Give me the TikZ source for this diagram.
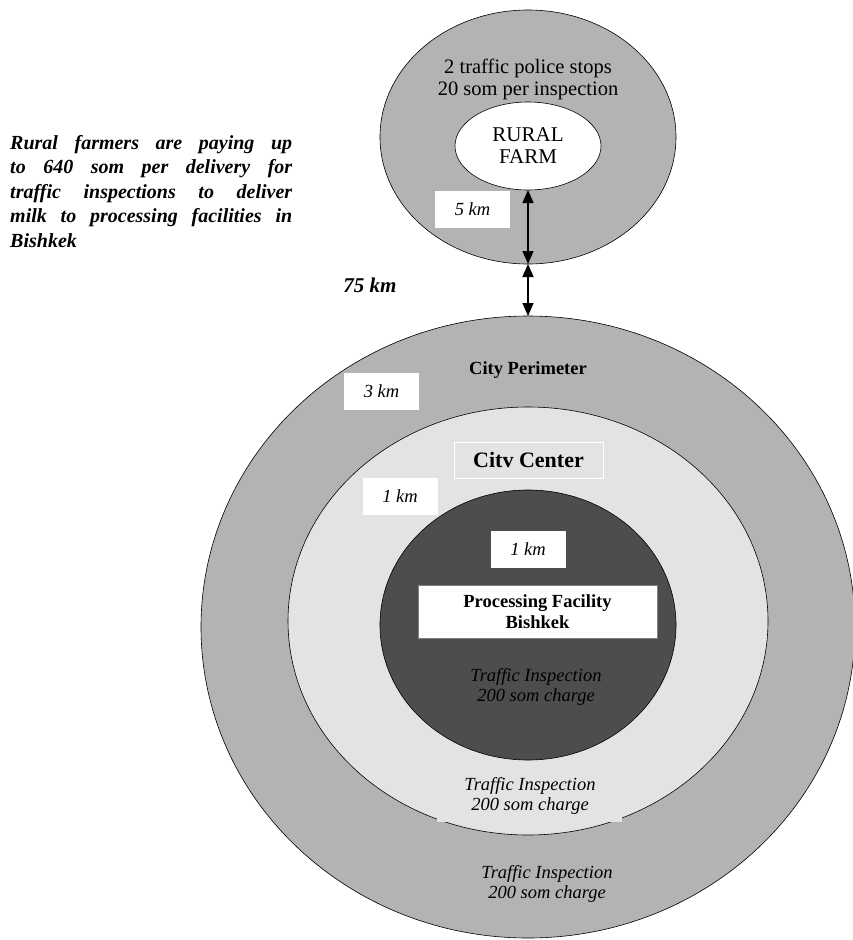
\documentclass[tikz,border=0pt]{standalone}
\usepackage{fontspec}
\setmainfont{Liberation Serif}
\usetikzlibrary{shapes.geometric,arrows.meta}
\definecolor{ringgray}{HTML}{B3B3B3}
\definecolor{palegray}{HTML}{E3E3E3}
\definecolor{deepgray}{HTML}{4D4D4D}
\begin{document}
\begin{tikzpicture}[x=1pt,y=-1pt,
  zone/.style={ellipse, draw=black, line width=0.6pt, inner sep=0pt, outer sep=0pt},
  kmbox/.style={fill=white, minimum width=75pt, minimum height=37pt, inner sep=0pt, font=\fontsize{18.5}{20}\selectfont\itshape},
  inspect/.style={align=center, font=\fontsize{18.5}{20.5}\selectfont\itshape},
  twoway/.style={line width=1.4pt, {Triangle[length=13pt,width=11pt]}-{Triangle[length=13pt,width=11pt]}}
]
\useasboundingbox (0,0) rectangle (853,940);

% rural area
\node[zone, fill=ringgray, minimum width=296pt, minimum height=254pt] (rural) at (528,137) {};
\node[zone, fill=white, minimum width=146pt, minimum height=88pt, align=center,
      font=\fontsize{21}{22}\selectfont] (farm) at (528,146) {RURAL\\FARM};
\node[align=center, font=\fontsize{20.5}{22}\selectfont] (stops) at (528,79) {2 traffic police stops\\20 som per inspection};
\node[kmbox] (km5) at (472.5,209.5) {5 km};

% city
\node[zone, fill=ringgray, minimum width=654pt, minimum height=622pt] (city) at (528,627) {};
\node[zone, fill=palegray, minimum width=480pt, minimum height=428pt] (center) at (528,621) {};
\node[zone, fill=deepgray, minimum width=296pt, minimum height=270pt] (core) at (528,625) {};

% arrows
\draw[twoway] (farm.south) -- (rural.south);
\draw[twoway] (rural.south) -- (city.north);

% labels
\node[align=justify, text width=282pt, inner sep=0pt, anchor=north west,
      font=\fontsize{20}{24.5}\selectfont\bfseries\itshape] (note) at (10,135)
  {Rural farmers are paying up\linebreak to 640 som per delivery for\linebreak traffic inspections to deliver\linebreak milk to processing facilities in\linebreak Bishkek};
\node[font=\fontsize{21}{22}\selectfont\bfseries\itshape] (km75) at (370,285) {75 km};
\node[font=\fontsize{18.5}{20}\selectfont\bfseries] (perim) at (528,370) {City Perimeter};
\node[kmbox] (km3) at (381.5,391) {3 km};
\node[fill=palegray, draw=white, line width=1pt, minimum width=149pt, minimum height=36pt, inner sep=0pt,
      font=\fontsize{22}{24}\selectfont\bfseries] (cc) at (528.5,460) {Citv Center};
\node[kmbox] (km1a) at (400,496) {1 km};
\node[kmbox] (km1b) at (528,549) {1 km};
\node[fill=white, draw=gray, line width=0.5pt, minimum width=239pt, minimum height=53pt, inner sep=0pt, align=center,
      font=\fontsize{18.5}{21}\selectfont\bfseries] (plant) at (537.5,611.5) {Processing Facility\\Bishkek};

\node[inspect] (ti1) at (536,687) {Traffic Inspection\\200 som charge};
\node[fill=palegray, minimum width=185pt, minimum height=52pt, inner sep=0pt] (tibg) at (529.5,796) {};
\node[inspect] (ti2) at (530,796) {Traffic Inspection\\200 som charge};
\node[inspect] (ti3) at (547,884) {Traffic Inspection\\200 som charge};
\end{tikzpicture}
\end{document}
